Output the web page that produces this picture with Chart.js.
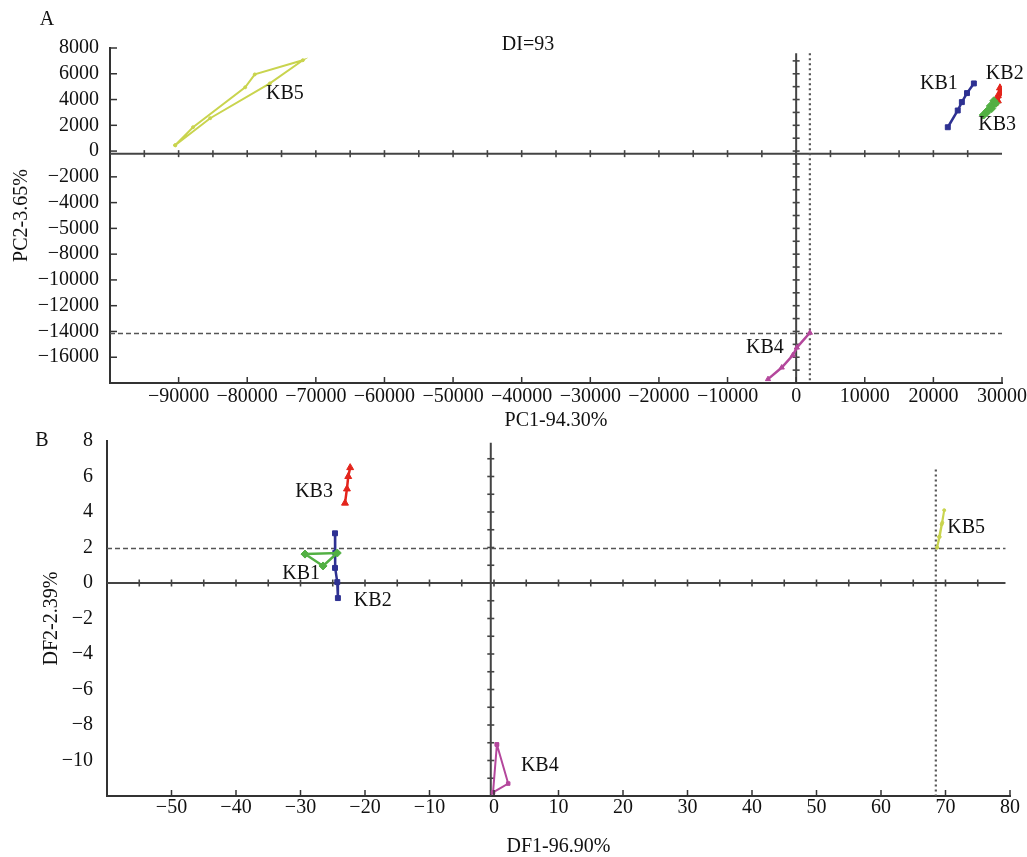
<!DOCTYPE html>
<html>
<head>
<meta charset="utf-8">
<script src="https://cdn.jsdelivr.net/npm/chart.js@4.4.1/dist/chart.umd.min.js"></script>
<style>
html,body{margin:0;padding:0;background:#fff;}
#wrap{position:relative;width:1027px;height:857px;overflow:hidden;background:#fff;}
#ca{position:absolute;left:0;top:0;}
#cb{position:absolute;left:0;top:400px;}
</style>
</head>
<body>
<div id="wrap">
<canvas id="ca" width="1027" height="431"></canvas>
<canvas id="cb" width="1027" height="457"></canvas>
</div>
<script>
// ================= DATA =================
// ---- Panel A : PCA ----
const aXTickValues = [-90000,-80000,-70000,-60000,-50000,-40000,-30000,-20000,-10000,0,10000,20000,30000];
const aYTickValues = [8000,6000,4000,2000,0,-2000,-4000,-6000,-8000,-10000,-12000,-14000,-16000];
const aYTickLabels = ['8000','6000','4000','2000','0','\u22122000','\u22124000','\u22125000','\u22128000','\u221210000','\u221212000','\u221214000','\u221216000'];

const aKB1x = [22100, 23550, 24150, 24900, 25900];
const aKB1y = [1850, 3150, 3800, 4500, 5250];
const aKB2x = [28900, 29400, 29700, 29900, 29400, 28900];
const aKB2y = [3700, 4300, 4900, 4500, 3900, 3700];
const aKB3x = [27300, 27800, 28300, 28800, 29100, 28500, 27800, 27300];
const aKB3y = [2800, 3100, 3500, 3900, 3700, 3300, 3000, 2800];
const aKB4x = [-4100, -2100, -500, 100, 2000];
const aKB4y = [-17700, -16800, -15850, -15250, -14100];
const aKB5x = [-90500, -87900, -80300, -78900, -71900, -76700, -85400, -90500];
const aKB5y = [450, 1850, 4950, 5950, 7050, 5250, 2550, 450];

const aLabelText = ['KB5','KB1','KB2','KB3','KB4'];
const aLabelX = [-74500, 20800, 30400, 29300, -4550];
const aLabelY = [4480, 5260, 6040, 2080, -15230];

// ---- Panel B : DFA ----
const bXTickValues = [-50,-40,-30,-20,-10,0,10,20,30,40,50,60,70,80];
const bYTickValues = [8,6,4,2,0,-2,-4,-6,-8,-10];

const bKB1x = [-29.3, -26.5, -24.3, -29.3];
const bKB1y = [1.63, 0.96, 1.69, 1.63];
const bKB2x = [-24.65, -24.6, -24.65, -24.3, -24.2];
const bKB2y = [2.8, 1.7, 0.85, 0.05, -0.85];
const bKB3x = [-23.1, -22.8, -22.6, -22.3];
const bKB3y = [4.5, 5.3, 6.0, 6.5];
const bKB4x = [0.45, 2.2, -0.15, 0.45];
const bKB4y = [-9.1, -11.3, -11.8, -9.1];
const bKB5x = [68.7, 69.0, 69.4, 69.8, 69.5, 69.1, 68.7];
const bKB5y = [2.0, 2.6, 3.3, 4.1, 3.4, 2.6, 2.0];

const bLabelText = ['KB3','KB1','KB2','KB4','KB5'];
const bLabelX = [-27.9, -29.9, -18.8, 7.1, 73.2];
const bLabelY = [5.13, 0.5, -1.0, -10.3, 3.1];

// ================= STYLE =================
const FONT = "'Liberation Serif','Times New Roman',serif";
Chart.defaults.font.family = FONT;
Chart.defaults.font.size = 20;
Chart.defaults.color = '#1a1a1a';

const C_BLUE = '#2e3192', C_RED = '#e3241b', C_GREEN = '#52b043', C_MAG = '#b4479c', C_YEL = '#c9d44e';

function minusFmt(v){ return (v < 0 ? '\u2212' : '') + Math.abs(v); }

function series(label, xs, ys, color, style, radius, width){
  return {
    label, data: xs.map((x,i)=>({x, y: ys[i]})),
    showLine: true, borderColor: color, backgroundColor: color,
    pointStyle: style, pointRadius: radius, pointBorderWidth: 1,
    borderWidth: width || 2, tension: 0
  };
}

const decoPlugin = {
  id: 'deco',
  beforeDatasetsDraw(chart, args, o){
    const ctx = chart.ctx, xs = chart.scales.x, ys = chart.scales.y;
    ctx.save();
    (o.lines || []).forEach(L => {
      const x0 = xs.getPixelForValue(L.x0), x1 = xs.getPixelForValue(L.x1);
      const y0 = ys.getPixelForValue(L.y0), y1 = ys.getPixelForValue(L.y1);
      ctx.beginPath();
      ctx.strokeStyle = L.color; ctx.lineWidth = L.width;
      ctx.setLineDash(L.dash || []);
      ctx.moveTo(x0, y0); ctx.lineTo(x1, y1); ctx.stroke();
      ctx.setLineDash([]);
      if (L.tickStep){
        ctx.lineWidth = 1.6;
        for (let v = L.tickFrom; v <= L.tickTo + 1e-9; v += L.tickStep){
          ctx.beginPath();
          if (L.y0 === L.y1){
            const p = xs.getPixelForValue(v);
            ctx.moveTo(p, y0 - 3.5); ctx.lineTo(p, y0 + 3.5);
          } else {
            const p = ys.getPixelForValue(v);
            ctx.moveTo(x0 - 3.5, p); ctx.lineTo(x0 + 3.5, p);
          }
          ctx.stroke();
        }
      }
    });
    ctx.restore();
  },
  afterDraw(chart, args, o){
    const ctx = chart.ctx, xs = chart.scales.x, ys = chart.scales.y, a = chart.chartArea;
    ctx.save();
    ctx.strokeStyle = '#333'; ctx.lineWidth = 1.5;
    if (o.inTickX){
      xs.ticks.forEach(t => {
        const p = xs.getPixelForValue(t.value);
        ctx.beginPath(); ctx.moveTo(p, a.bottom); ctx.lineTo(p, a.bottom - o.inTickX); ctx.stroke();
      });
    }
    if (o.inTickY){
      ys.ticks.forEach(t => {
        const p = ys.getPixelForValue(t.value);
        ctx.beginPath(); ctx.moveTo(a.left, p); ctx.lineTo(a.left + o.inTickY, p); ctx.stroke();
      });
    }
    ctx.fillStyle = '#111';
    ctx.font = '20px ' + FONT;
    ctx.textAlign = 'center'; ctx.textBaseline = 'middle';
    (o.labels || []).forEach(L => {
      ctx.fillText(L.text, xs.getPixelForValue(L.x), ys.getPixelForValue(L.y));
    });
    (o.texts || []).forEach(T => { ctx.fillText(T.text, T.px, T.py); });
    ctx.restore();
  }
};

function fixBox(size, horizontal){
  return function(s){
    if (horizontal) s.height = size; else s.width = size;
    s.paddingLeft = 0; s.paddingRight = 0; s.paddingTop = 0; s.paddingBottom = 0;
  };
}

// ================= CHART A =================
new Chart(document.getElementById('ca'), {
  type: 'scatter',
  data: { datasets: [
    series('KB5', aKB5x, aKB5y, C_YEL, 'circle', 1.5, 2),
    series('KB4', aKB4x, aKB4y, C_MAG, 'triangle', 3, 2.5),
    series('KB1', aKB1x, aKB1y, C_BLUE, 'rect', 3.5, 2.5),
    series('KB3', aKB3x, aKB3y, C_GREEN, 'rectRot', 4, 3),
    series('KB2', aKB2x, aKB2y, C_RED, 'triangle', 4, 2.5)
  ]},
  options: {
    responsive: false, animation: false,
    layout: { padding: { top: 48, left: 0, right: 25, bottom: 0 } },
    plugins: {
      legend: { display: false }, tooltip: { enabled: false },
      deco: {
        inTickX: 6, inTickY: 7,
        lines: [
          { x0: -100000, x1: 30000, y0: -200, y1: -200, color: '#444', width: 2, tickStep: 5000, tickFrom: -95000, tickTo: 25000 },
          { x0: 0, x1: 0, y0: 7600, y1: -18000, color: '#444', width: 2, tickStep: 1000, tickFrom: -17000, tickTo: 7000 },
          { x0: -100000, x1: 30000, y0: -14150, y1: -14150, color: '#555', width: 1.5, dash: [5,3] },
          { x0: 2000, x1: 2000, y0: 7600, y1: -18000, color: '#555', width: 2.2, dash: [2,3] }
        ],
        labels: aLabelText.map((t,i)=>({ text: t, x: aLabelX[i], y: aLabelY[i] })),
        texts: [ { text: 'A', px: 47, py: 20 }, { text: 'DI=93', px: 528, py: 45 } ]
      }
    },
    scales: {
      x: {
        type: 'linear', min: -100000, max: 30000,
        afterBuildTicks: s => { s.ticks = aXTickValues.map(v => ({ value: v })); },
        afterFit: fixBox(48, true),
        grid: { drawOnChartArea: false, drawTicks: false },
        border: { display: true, color: '#333', width: 2 },
        ticks: { padding: 2, autoSkip: false, maxRotation: 0, color: '#111', callback: v => minusFmt(v) },
        title: { display: true, text: 'PC1-94.30%', color: '#111', font: { size: 20, lineHeight: 1 }, padding: { top: 0, bottom: 0 } }
      },
      y: {
        type: 'linear', min: -18000, max: 8000,
        afterBuildTicks: s => { s.ticks = aYTickValues.map(v => ({ value: v })); },
        afterFit: fixBox(110, false),
        grid: { drawOnChartArea: false, drawTicks: false },
        border: { display: true, color: '#333', width: 2 },
        ticks: { padding: 11, autoSkip: false, color: '#111', callback: v => aYTickLabels[aYTickValues.indexOf(v)] },
        title: { display: true, text: 'PC2-3.65%', color: '#111', font: { size: 20, lineHeight: 1 }, padding: { top: 12, bottom: 0 } }
      }
    }
  },
  plugins: [decoPlugin]
});

// ================= CHART B =================
new Chart(document.getElementById('cb'), {
  type: 'scatter',
  data: { datasets: [
    series('KB5', bKB5x, bKB5y, C_YEL, 'circle', 1.5, 2),
    series('KB4', bKB4x, bKB4y, C_MAG, 'rect', 2.5, 2),
    series('KB1', bKB1x, bKB1y, C_GREEN, 'rectRot', 4, 2.5),
    series('KB2', bKB2x, bKB2y, C_BLUE, 'rect', 3.5, 2.5),
    series('KB3', bKB3x, bKB3y, C_RED, 'triangle', 4, 2.5)
  ]},
  options: {
    responsive: false, animation: false,
    layout: { padding: { top: 41, left: 0, right: 17, bottom: 0 } },
    plugins: {
      legend: { display: false }, tooltip: { enabled: false },
      deco: {
        inTickX: 6, inTickY: 0,
        lines: [
          { x0: -60, x1: 79.3, y0: 0, y1: 0, color: '#444', width: 2, tickStep: 5, tickFrom: -55, tickTo: 75 },
          { x0: -0.5, x1: -0.5, y0: 7.9, y1: -12, color: '#444', width: 2, tickStep: 1, tickFrom: -11, tickTo: 7 },
          { x0: -60, x1: 79.3, y0: 1.95, y1: 1.95, color: '#555', width: 1.5, dash: [5,3] },
          { x0: 68.5, x1: 68.5, y0: 6.4, y1: -12, color: '#555', width: 2.2, dash: [2,3] }
        ],
        labels: bLabelText.map((t,i)=>({ text: t, x: bLabelX[i], y: bLabelY[i] })),
        texts: [ { text: 'B', px: 42, py: 41 } ]
      }
    },
    scales: {
      x: {
        type: 'linear', min: -60, max: 80,
        afterBuildTicks: s => { s.ticks = bXTickValues.map(v => ({ value: v })); },
        afterFit: fixBox(61, true),
        grid: { drawOnChartArea: false, drawTicks: false },
        border: { display: true, color: '#333', width: 2 },
        ticks: { padding: 0, autoSkip: false, maxRotation: 0, color: '#111', callback: v => minusFmt(v) },
        title: { display: true, text: 'DF1-96.90%', color: '#111', font: { size: 20, lineHeight: 1 }, padding: { top: 0, bottom: 0 } }
      },
      y: {
        type: 'linear', min: -12, max: 8,
        afterBuildTicks: s => { s.ticks = bYTickValues.map(v => ({ value: v })); },
        afterFit: fixBox(107, false),
        grid: { drawOnChartArea: false, drawTicks: false },
        border: { display: true, color: '#333', width: 2 },
        ticks: { padding: 14, autoSkip: false, color: '#111', callback: v => minusFmt(v) },
        title: { display: true, text: 'DF2-2.39%', color: '#111', font: { size: 20, lineHeight: 1 }, padding: { top: 42, bottom: 0 } }
      }
    }
  },
  plugins: [decoPlugin]
});
</script>
</body>
</html>
